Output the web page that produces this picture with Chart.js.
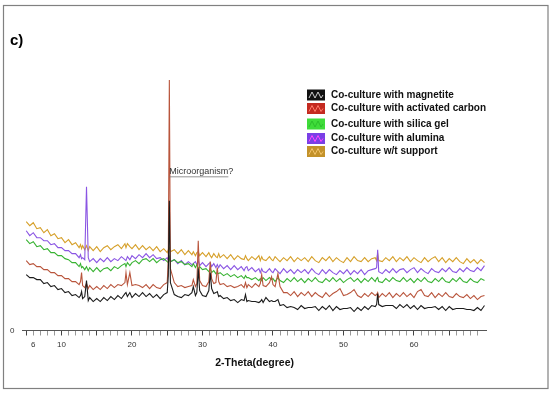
<!DOCTYPE html>
<html>
<head>
<meta charset="utf-8">
<script src="https://cdn.jsdelivr.net/npm/chart.js@4.4.0/dist/chart.umd.min.js"></script>
<style>
  html, body { margin: 0; padding: 0; background: #fff; }
  #wrap { width: 550px; height: 394px; }
</style>
</head>
<body>
<div id="wrap"><canvas id="xrdChart" width="550" height="394"></canvas></div>
<script>
// XRD patterns, c) - 2-theta vs intensity (arbitrary units, stacked)

const theta = [
  5.0, 5.5, 6.0, 6.5, 7.0, 7.5, 8.0, 8.5, 9.0, 9.5,
  10.0, 10.5, 11.0, 11.5, 12.0, 12.5, 12.7, 12.85, 13.0, 13.3,
  13.55, 13.8, 14.0, 14.5, 15.0, 15.5, 16.0, 16.5, 17.0, 17.5,
  18.0, 18.5, 19.0, 19.15, 19.35, 19.7, 20.0, 20.5, 21.0, 21.5,
  22.0, 22.5, 23.0, 23.5, 24.0, 24.5, 25.0, 25.15, 25.3, 25.45,
  26.0, 26.5, 27.0, 27.5, 28.0, 28.5, 28.7, 29.0, 29.2, 29.4,
  29.6, 30.0, 30.5, 30.9, 31.1, 31.3, 31.6, 31.9, 32.1, 32.3,
  32.5, 33.0, 33.5, 34.0, 34.5, 35.0, 35.5, 35.9, 36.1, 36.3,
  36.5, 37.0, 37.5, 38.0, 38.2, 38.4, 38.6, 39.0, 39.5, 39.8,
  40.0, 40.3, 40.7, 41.0, 41.5, 42.0, 42.5, 43.0, 43.5, 44.0,
  44.5, 45.0, 45.5, 46.0, 46.5, 47.0, 47.5, 48.0, 48.5, 49.0,
  49.5, 50.0, 50.5, 51.0, 51.5, 52.0, 52.5, 53.0, 53.5, 54.0,
  54.5, 54.7, 54.85, 55.0, 55.5, 56.0, 56.5, 57.0, 57.5, 58.0,
  58.5, 59.0, 59.5, 60.0, 60.5, 61.0, 61.5, 62.0, 62.5, 63.0,
  63.5, 64.0, 64.5, 65.0, 65.5, 66.0, 66.5, 67.0, 67.5, 68.0,
  68.5, 69.0, 69.5, 70.0,
];

const magnetite = [
  56, 53, 53, 51, 51, 47, 48, 44, 45, 41,
  42, 38, 39, 35, 36, 33, 35, 39, 32, 34,
  50, 30, 33, 29, 32, 29, 33, 30, 34, 31,
  35, 32, 37, 38, 34, 38, 33, 37, 34, 38,
  34, 37, 33, 36, 32, 36, 38, 55, 130, 48,
  36, 34, 33, 36, 35, 38, 44, 35, 38, 62,
  40, 35, 34, 40, 58, 42, 37, 38, 39, 34,
  35, 32, 33, 30, 31, 28, 31, 30, 36, 29,
  30, 29, 29, 28, 29, 31, 28, 33, 29, 30,
  29, 29, 31, 25, 26, 23, 24, 23, 21, 25,
  22, 23, 23, 24, 20, 24, 21, 25, 20, 24,
  21, 22, 22, 23, 19, 23, 20, 24, 21, 25,
  24, 26, 37, 26, 24, 25, 25, 25, 22, 26,
  23, 26, 22, 25, 21, 25, 22, 23, 23, 24,
  21, 24, 20, 24, 21, 22, 22, 22, 21, 21,
  20, 23, 20, 25,
];

const activatedCarbon = [
  70, 66, 67, 64, 64, 61, 61, 58, 58, 55,
  55, 52, 52, 49, 49, 46, 49, 58, 45, 43,
  47, 42, 45, 41, 44, 41, 45, 42, 46, 43,
  46, 45, 48, 58, 46, 58, 45, 46, 45, 43,
  46, 42, 46, 43, 42, 46, 48, 70, 251, 62,
  48, 44, 45, 43, 44, 45, 51, 44, 47, 90,
  50, 45, 44, 49, 69, 52, 47, 48, 63, 49,
  46, 47, 44, 45, 43, 44, 46, 43, 48, 43,
  46, 43, 47, 44, 47, 56, 45, 44, 48, 54,
  46, 44, 57, 44, 38, 38, 35, 39, 34, 38,
  35, 39, 34, 38, 35, 33, 38, 34, 37, 39,
  42, 35, 36, 38, 41, 35, 33, 37, 34, 38,
  35, 36, 38, 33, 37, 34, 38, 33, 37, 34,
  38, 34, 37, 33, 39, 41, 35, 34, 38, 33,
  37, 34, 38, 34, 33, 37, 34, 33, 36, 32,
  35, 31, 34, 35,
];

const silicaGel = [
  91, 87, 89, 84, 85, 81, 82, 78, 78, 75,
  75, 72, 71, 68, 68, 64, 67, 63, 64, 61,
  64, 60, 63, 59, 63, 59, 62, 63, 60, 64,
  62, 65, 67, 64, 68, 65, 68, 70, 67, 71,
  72, 69, 72, 68, 71, 72, 69, 68, 73, 69,
  71, 68, 69, 66, 67, 64, 67, 63, 66, 62,
  64, 61, 62, 59, 62, 58, 60, 57, 58, 57,
  58, 55, 57, 54, 56, 53, 55, 52, 55, 53,
  53, 51, 53, 50, 52, 50, 53, 50, 53, 51,
  52, 49, 53, 50, 48, 52, 49, 53, 49, 52,
  48, 52, 49, 53, 49, 48, 52, 49, 53, 49,
  52, 48, 51, 53, 49, 52, 48, 52, 49, 53,
  49, 52, 53, 49, 48, 52, 49, 53, 50, 49,
  53, 49, 52, 48, 52, 49, 53, 49, 48, 52,
  49, 53, 49, 48, 52, 49, 53, 49, 48, 52,
  49, 48, 52, 50,
];

const alumina = [
  100, 95, 98, 93, 93, 90, 90, 86, 87, 83,
  83, 80, 80, 77, 77, 73, 76, 72, 73, 71,
  144, 73, 69, 72, 68, 72, 69, 73, 69, 72,
  70, 74, 71, 70, 74, 71, 75, 72, 76, 73,
  77, 73, 76, 72, 73, 70, 73, 70, 74, 69,
  71, 67, 70, 66, 69, 66, 67, 69, 66, 70,
  65, 68, 64, 67, 68, 64, 67, 63, 66, 63,
  66, 62, 65, 61, 65, 61, 64, 60, 63, 64,
  60, 63, 59, 62, 58, 62, 59, 58, 62, 59,
  58, 62, 59, 57, 62, 58, 61, 57, 61, 58,
  61, 57, 62, 58, 56, 61, 57, 61, 58, 56,
  60, 57, 61, 56, 60, 57, 61, 56, 60, 61,
  62, 63, 81, 59, 57, 61, 58, 62, 58, 61,
  62, 58, 61, 63, 58, 62, 59, 57, 62, 59,
  58, 62, 59, 63, 59, 58, 62, 59, 63, 60,
  59, 63, 60, 65,
];

const noSupport = [
  109, 105, 108, 102, 103, 98, 101, 95, 97, 92,
  93, 88, 91, 86, 88, 83, 86, 82, 85, 81,
  85, 80, 84, 80, 84, 79, 83, 85, 81, 84,
  86, 82, 87, 83, 87, 84, 82, 86, 81, 85,
  81, 84, 80, 84, 79, 82, 78, 81, 83, 79,
  81, 77, 81, 76, 80, 76, 79, 75, 78, 79,
  75, 78, 74, 78, 75, 73, 77, 74, 73, 77,
  73, 76, 72, 76, 71, 75, 72, 71, 75, 72,
  70, 74, 71, 75, 70, 74, 71, 70, 74, 71,
  70, 74, 71, 69, 73, 70, 74, 69, 73, 70,
  73, 69, 74, 70, 68, 73, 70, 74, 69, 73,
  70, 68, 73, 69, 74, 70, 69, 73, 69, 72,
  73, 70, 77, 70, 69, 73, 70, 74, 69, 73,
  70, 74, 69, 73, 70, 68, 73, 69, 72, 74,
  69, 73, 68, 72, 69, 73, 69, 67, 72, 68,
  71, 67, 71, 68,
];

const seriesNames = [
  "Co-culture with magnetite",
  "Co-culture with activated carbon",
  "Co-culture with silica gel",
  "Co-culture with alumina",
  "Co-culture w/t support",
];
const xTickLabels = [6, 10, 20, 30, 40, 50, 60];

const lineColors = ["#1c1c1c", "#b9553c", "#38b332", "#8a55e3", "#d6a02a"];
const iconFill = ["#111111", "#c42a20", "#3fdc3a", "#7a3fe6", "#c3922a"];
const iconWave = ["#d0d0d0", "#ff7a6a", "#2bbf2b", "#ff44ff", "#f2c36a"];

const FONT = "'Liberation Sans', Arial, sans-serif";
Chart.defaults.font.family = FONT;

// white page + grey frame
const framePlugin = {
  id: "frame",
  beforeDraw(chart) {
    const ctx = chart.ctx;
    ctx.save();
    ctx.fillStyle = "#fff";
    ctx.fillRect(0, 0, chart.width, chart.height);
    ctx.strokeStyle = "#808080";
    ctx.lineWidth = 1.2;
    ctx.strokeRect(3.5, 5.5, 544.5, 383);
    ctx.restore();
  },
};

// legend with little wave icons, drawn top right
const legendBoxPlugin = {
  id: "legendBox",
  afterDraw(chart) {
    const ctx = chart.ctx;
    const rows = [95, 108.5, 124, 138.5, 151.5];
    ctx.save();
    ctx.font = "bold 10px " + FONT;
    ctx.textBaseline = "middle";
    chart.data.datasets.forEach((ds, i) => {
      const y = rows[i];
      ctx.fillStyle = iconFill[i];
      ctx.fillRect(307, y - 5.5, 18, 11);
      ctx.strokeStyle = iconWave[i];
      ctx.lineWidth = 1;
      ctx.beginPath();
      ctx.moveTo(309, y + 3);
      ctx.lineTo(312, y - 3);
      ctx.lineTo(315, y + 3);
      ctx.lineTo(318, y - 3);
      ctx.lineTo(321, y + 3);
      ctx.lineTo(323, y);
      ctx.stroke();
      ctx.fillStyle = "#111";
      ctx.fillText(ds.label, 331, y);
    });
    ctx.restore();
  },
};

// "Microorganism?" note next to the big peak
const notePlugin = {
  id: "note",
  afterDatasetsDraw(chart) {
    const ctx = chart.ctx;
    const x = chart.scales.x.getPixelForValue(25.3);
    const y = chart.scales.y.getPixelForValue(159);
    ctx.save();
    ctx.font = "9px " + FONT;
    ctx.fillStyle = "#333";
    ctx.textBaseline = "middle";
    ctx.fillText("Microorganism?", x, y);
    const w = ctx.measureText("Microorganism").width;
    ctx.strokeStyle = "#777";
    ctx.lineWidth = 0.8;
    ctx.beginPath();
    ctx.moveTo(x, y + 5);
    ctx.lineTo(x + w, y + 5);
    ctx.stroke();
    ctx.restore();
  },
};

const ctx = document.getElementById("xrdChart").getContext("2d");
const datasets = [magnetite, activatedCarbon, silicaGel, alumina, noSupport].map(
  (values, i) => ({
    label: seriesNames[i],
    data: values,
    borderColor: lineColors[i],
    backgroundColor: lineColors[i],
    borderWidth: 1.1,
    pointRadius: 0,
    tension: 0,
    fill: false,
  })
);

new Chart(ctx, {
  type: "line",
  data: { labels: theta, datasets: datasets },
  options: {
    responsive: false,
    animation: false,
    devicePixelRatio: 1,
    layout: { padding: { left: 10, right: 63.4, top: 5, bottom: 21 } },
    plugins: {
      legend: { display: false },
      tooltip: { enabled: false },
      title: {
        display: true,
        text: "c)",
        align: "start",
        color: "#000",
        font: { size: 15, weight: "bold" },
        padding: { top: 27, bottom: 29 },
      },
    },
    scales: {
      x: {
        type: "linear",
        min: 4.5,
        max: 70.3,
        afterBuildTicks: (scale) => {
          const t = [];
          for (let v = 5; v <= 69; v++) t.push({ value: v });
          scale.ticks = t;
        },
        ticks: {
          autoSkip: false,
          maxRotation: 0,
          padding: 4,
          color: "#333",
          font: { size: 8 },
          callback: (v) => (xTickLabels.includes(v) ? String(v) : ""),
        },
        grid: {
          display: true,
          drawOnChartArea: false,
          drawTicks: true,
          tickLength: 5,
          tickColor: (c) => (c.tick && c.tick.value % 5 === 0 ? "#444" : "#999"),
        },
        border: { display: true, color: "#555", width: 1 },
        title: {
          display: true,
          text: "2-Theta(degree)",
          color: "#111",
          font: { size: 10.5, weight: "bold" },
          padding: { top: 3.3, bottom: 4 },
        },
      },
      y: {
        min: 0,
        max: 252,
        afterBuildTicks: (scale) => {
          scale.ticks = [{ value: 0 }];
        },
        afterFit: (scale) => {
          scale.width = 12.7;
        },
        ticks: { padding: 8.25, color: "#333", font: { size: 8 } },
        grid: { display: false, drawTicks: false, tickLength: 0 },
        border: { display: false },
      },
    },
  },
  plugins: [framePlugin, legendBoxPlugin, notePlugin],
});
</script>
</body>
</html>
